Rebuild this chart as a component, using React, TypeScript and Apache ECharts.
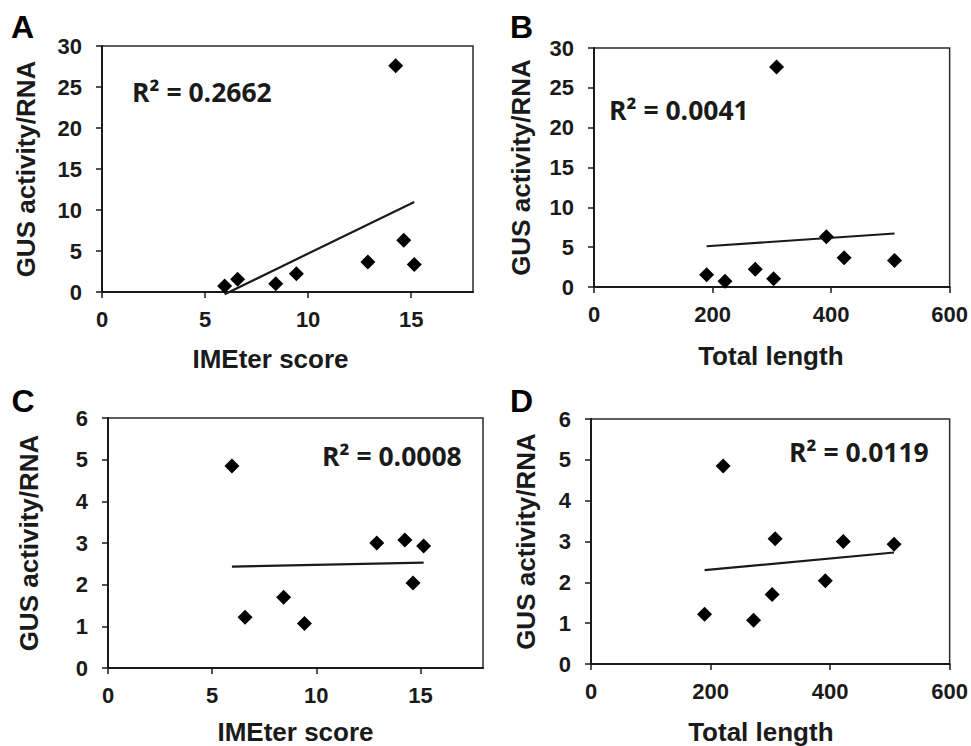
import React, { useEffect, useRef } from "react";
import * as echarts from "echarts";

// ---- data ----
const imeterScore = [5.95, 6.58, 8.43, 9.43, 12.9, 14.25, 14.64, 15.15];
const totalLength = [221, 190, 303, 272, 422, 308, 392, 507];
const gusActivityAB = [0.73, 1.55, 1.02, 2.24, 3.66, 27.6, 6.3, 3.34];
const gusActivityCD = [4.85, 1.22, 1.7, 1.07, 3.0, 3.07, 2.04, 2.93];

const panelLetters = ["A", "B", "C", "D"];
const rSquaredLabels = ["R² = 0.2662", "R² = 0.0041", "R² = 0.0008", "R² = 0.0119"];
const xAxisTitles = ["IMEter score", "Total length", "IMEter score", "Total length"];
const yAxisTitle = "GUS activity/RNA";
const imeterTicks = [0, 5, 10, 15];
const lengthTicks = [0, 200, 400, 600];

// ---- layout / style ----
const INK = "#1a1a1a";
const AXIS_FONT = "Liberation Sans";
const R2_FONT = "Open Sans";

const panels = [
  { xs: imeterScore, ys: gusActivityAB, grid: { left: 102, top: 46, width: 371, height: 246 }, xMax: 18, xTicks: imeterTicks, yMax: 30, yInterval: 5, xNameGap: 54, xNamePad: [0, 34, 0, 0], yNameGap: 63, letter: [22.5, 27], r2: [132, 92] },
  { xs: totalLength, ys: gusActivityAB, grid: { left: 594, top: 48, width: 356, height: 239 }, xMax: 600, xTicks: lengthTicks, yMax: 30, yInterval: 5, xNameGap: 56, xNamePad: [0, 2, 0, 0], yNameGap: 60, letter: [521.5, 27], r2: [609, 110] },
  { xs: imeterScore, ys: gusActivityCD, grid: { left: 108, top: 418, width: 375, height: 251 }, xMax: 18, xTicks: imeterTicks, yMax: 6, yInterval: 1, xNameGap: 51, xNamePad: [0, 0, 0, 0], yNameGap: 66, letter: [23, 401], r2: [322, 456] },
  { xs: totalLength, ys: gusActivityCD, grid: { left: 591, top: 419, width: 359, height: 246 }, xMax: 600, xTicks: lengthTicks, yMax: 6, yInterval: 1, xNameGap: 55, xNamePad: [0, 19, 0, 0], yNameGap: 52, letter: [521.5, 401], r2: [789, 452] },
];

function fitLine(xs: number[], ys: number[]) {
  const n = xs.length;
  const mx = xs.reduce((a, b) => a + b, 0) / n;
  const my = ys.reduce((a, b) => a + b, 0) / n;
  let sxy = 0;
  let sxx = 0;
  for (let i = 0; i < n; i++) {
    sxy += (xs[i] - mx) * (ys[i] - my);
    sxx += (xs[i] - mx) * (xs[i] - mx);
  }
  const slope = sxy / sxx;
  const b = my - slope * mx;
  const x0 = Math.min(...xs);
  const x1 = Math.max(...xs);
  return [
    [x0, b + slope * x0],
    [x1, b + slope * x1],
  ];
}

const tickLabelStyle = {
  color: INK,
  fontFamily: AXIS_FONT,
  fontWeight: 700,
  fontSize: 22,
};

export default function App() {
  const ref = useRef<HTMLDivElement>(null);

  useEffect(() => {
    if (!ref.current) return;
    const chart = echarts.init(ref.current, undefined, { renderer: "svg" });

    const grid: any[] = [];
    const xAxis: any[] = [];
    const yAxis: any[] = [];
    const series: any[] = [];
    const graphic: any[] = [];

    panels.forEach((p, i) => {
      grid.push({
        ...p.grid,
        show: true,
        borderColor: "#2a2a2a",
        borderWidth: 1.5,
        backgroundColor: "transparent",
        containLabel: false,
      });
      xAxis.push({
        type: "value",
        gridIndex: i,
        min: 0,
        max: p.xMax,
        splitLine: { show: false },
        axisLine: { show: true, onZero: false, lineStyle: { color: INK, width: 2 } },
        axisTick: { show: true, length: 6, customValues: p.xTicks, lineStyle: { color: INK, width: 1.5 } },
        axisLabel: {
          show: true,
          customValues: p.xTicks,
          margin: 16,
          ...tickLabelStyle,
        },
        name: xAxisTitles[i],
        nameLocation: "middle",
        nameGap: p.xNameGap,
        nameTextStyle: {
          color: INK,
          fontFamily: AXIS_FONT,
          fontWeight: 700,
          fontSize: 26,
          padding: p.xNamePad,
        },
      });
      yAxis.push({
        type: "value",
        gridIndex: i,
        min: 0,
        max: p.yMax,
        interval: p.yInterval,
        splitLine: { show: false },
        axisLine: { show: true, onZero: false, lineStyle: { color: INK, width: 2 } },
        axisTick: { show: true, length: 6, lineStyle: { color: INK, width: 1.5 } },
        axisLabel: {
          show: true,
          margin: 20,
          ...tickLabelStyle,
        },
        name: yAxisTitle,
        nameLocation: "middle",
        nameRotate: 90,
        nameGap: p.yNameGap,
        nameTextStyle: {
          color: INK,
          fontFamily: AXIS_FONT,
          fontWeight: 700,
          fontSize: 26,
        },
      });
      series.push({
        type: "line",
        xAxisIndex: i,
        yAxisIndex: i,
        data: fitLine(p.xs, p.ys),
        showSymbol: false,
        symbol: "none",
        clip: false,
        lineStyle: { color: INK, width: 2.2, opacity: 1 },
        silent: true,
        z: 2,
      });
      series.push({
        type: "scatter",
        xAxisIndex: i,
        yAxisIndex: i,
        data: p.xs.map((x, k) => [x, p.ys[k]]),
        symbol: "diamond",
        symbolSize: [15, 15],
        itemStyle: { color: "#000", opacity: 1 },
        clip: false,
        z: 3,
      });
      graphic.push({
        type: "text",
        x: p.letter[0],
        y: p.letter[1],
        style: {
          text: panelLetters[i],
          fill: "#000",
          fontFamily: AXIS_FONT,
          fontWeight: 700,
          fontSize: 32,
          textAlign: "center",
          align: "center",
          textVerticalAlign: "middle",
          verticalAlign: "middle",
        },
      });
      graphic.push({
        type: "text",
        x: p.r2[0],
        y: p.r2[1],
        z: 10,
        style: {
          text: rSquaredLabels[i],
          fill: INK,
          fontFamily: R2_FONT,
          fontWeight: 700,
          fontSize: 26.5,
          textAlign: "left",
          align: "left",
          textVerticalAlign: "middle",
          verticalAlign: "middle",
        },
      });
    });

    chart.setOption({
      animation: false,
      backgroundColor: "#fff",
      textStyle: { fontFamily: AXIS_FONT, fontWeight: 700, fontSize: 22, color: INK },
      grid,
      xAxis,
      yAxis,
      series,
      graphic,
    });

    return () => chart.dispose();
  }, []);

  return (
    <div
      ref={ref}
      style={{ position: "absolute", left: 0, top: 0, width: 971, height: 746 }}
    />
  );
}
